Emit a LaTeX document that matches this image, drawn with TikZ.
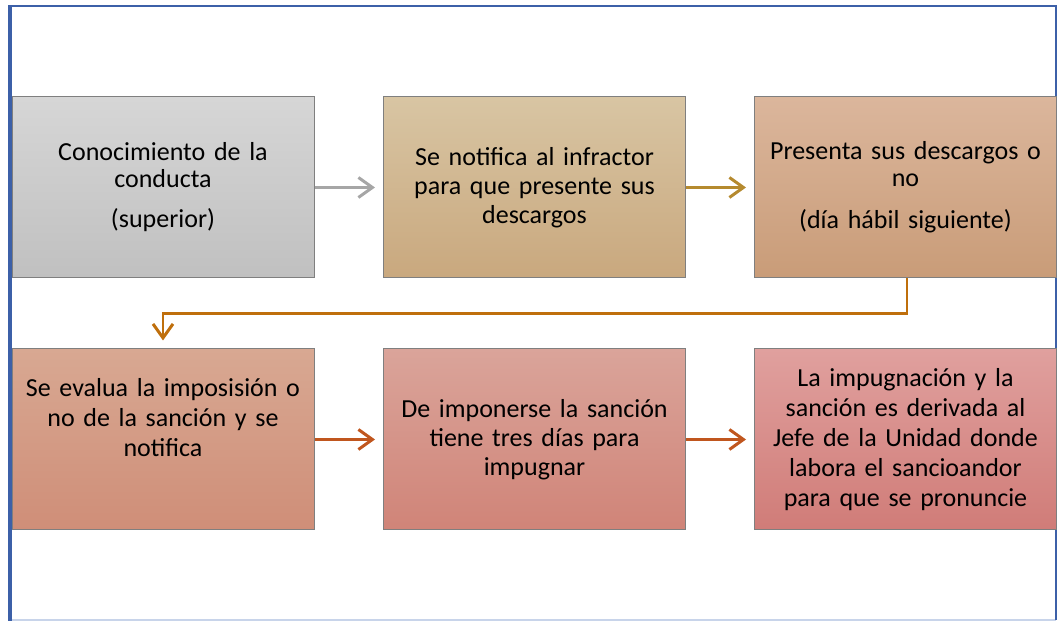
\documentclass[tikz,border=0pt]{standalone}
\usepackage{fontspec}
\setmainfont{Carlito}
\usetikzlibrary{arrows.meta}
\definecolor{framecol}{HTML}{3C60A8}
\definecolor{framelight}{HTML}{C8D4EA}
\definecolor{boxline}{HTML}{7F7F7F}
\definecolor{arrgray}{HTML}{A6A6A6}
\definecolor{arrgold}{HTML}{B58A2F}
\definecolor{arrorange}{HTML}{BF6F0C}
\definecolor{arrred}{HTML}{C0561E}
\begin{document}
\begin{tikzpicture}[
  stepbox/.style={rectangle, draw=boxline, line width=1pt, minimum width=302pt,
    minimum height=181pt, text width=296pt, align=center, inner sep=0pt,
    font=\fontsize{26}{30}\selectfont},
  flow/.style={line width=3pt, -{Straight Barb[length=14pt,width=20pt,line width=3pt]}, shorten >=8pt}]
  \useasboundingbox (0,0) rectangle (1058pt,621pt);

  % frame
  \draw[framelight, line width=2pt] (10pt,1pt) -- (1056pt,1pt);
  \draw[framecol, line width=2pt] (10pt,615pt) -- (1056pt,615pt) -- (1056pt,1pt);
  \draw[framecol, line width=3.5pt] (10pt,0pt) -- (10pt,616pt);

  % first row
  \node[stepbox, top color={rgb,255:red,214;green,214;blue,214}, bottom color={rgb,255:red,192;green,192;blue,192}]
    (conocimiento) at (163pt,433.5pt) {Conocimiento de la\\[-3pt] conducta\\[10pt] (superior)};
  \node[stepbox, top color={rgb,255:red,216;green,197;blue,163}, bottom color={rgb,255:red,201;green,168;blue,126}]
    (notifica) at (534.5pt,433.5pt) {Se notifica al infractor\\[-1pt] para que presente sus\\[-1pt] descargos};
  \node[stepbox, top color={rgb,255:red,219;green,182;blue,156}, bottom color={rgb,255:red,201;green,156;blue,120}]
    (descargos) at (905.5pt,433.5pt) {Presenta sus descargos o\\[-3pt] no\\[12pt] (día hábil siguiente)};

  % second row
  \node[stepbox, top color={rgb,255:red,216;green,168;blue,146}, bottom color={rgb,255:red,207;green,142;blue,120}]
    (evalua) at (163pt,181.5pt) {Se evalua la imposisión o\\ no de la sanción y se\\ notifica\\[14pt]\mbox{}};
  \node[stepbox, top color={rgb,255:red,218;green,164;blue,154}, bottom color={rgb,255:red,208;green,132;blue,120}]
    (impugnar) at (534.5pt,181.5pt) {De imponerse la sanción\\[-1pt] tiene tres días para\\[-1pt] impugnar};
  \node[stepbox, top color={rgb,255:red,224;green,160;blue,158}, bottom color={rgb,255:red,208;green,124;blue,120}]
    (jefe) at (905.5pt,181.5pt) {La impugnación y la\\ sanción es derivada al\\ Jefe de la Unidad donde\\ labora el sancioandor\\ para que se pronuncie};

  % connectors
  \draw[flow, arrgray] (conocimiento) -- (notifica);
  \draw[flow, arrgold] (notifica) -- (descargos);
  \draw[flow, arrorange, line width=2.5pt] ([xshift=1.5pt]descargos.south) -- ++(0,-35pt) -| (evalua.north);
  \draw[flow, arrred] (evalua) -- (impugnar);
  \draw[flow, arrred] (impugnar) -- (jefe);
\end{tikzpicture}
\end{document}
